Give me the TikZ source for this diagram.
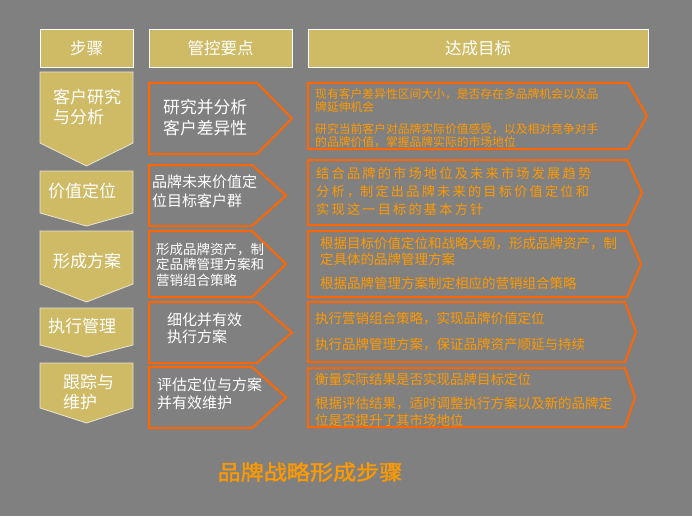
\documentclass[tikz,border=0pt]{standalone}
\usepackage{fontspec}
\usepackage{tikz}
\newfontfamily\hei{Noto Sans CJK SC}
\newfontfamily\heib[FakeBold=1.6,FakeStretch=1.1]{Noto Sans CJK SC}
\definecolor{bggray}{RGB}{128,128,128}
\definecolor{gold}{RGB}{207,187,102}
\definecolor{stepedge}{RGB}{232,228,210}
\definecolor{edgeorange}{RGB}{255,102,0}
\definecolor{textorange}{RGB}{255,153,0}
\tikzset{
  headbox/.style={draw=white, fill=gold, line width=0.8pt},
  stepshape/.style={draw=stepedge, fill=gold, line width=0.8pt},
  pointshape/.style={draw=edgeorange, line width=2pt, line join=miter},
  headtext/.style={text=white, inner sep=0pt, font={\hei\fontsize{16.5}{18}\selectfont}},
  steptext/.style={text=white, align=left, inner sep=0pt, anchor=west},
  goaltext/.style={text=textorange, align=left, inner sep=0pt, anchor=west},
}

\begin{document}
\begin{tikzpicture}[x=1pt, y=-1pt]
\fill[bggray] (0,0) rectangle (692,516);
\useasboundingbox (0,0) rectangle (692,516);

% column heads
\draw[headbox] (40,29) rectangle (133,67);
\draw[headbox] (149,29) rectangle (292,67);
\draw[headbox] (308,29) rectangle (648,67);
\node[headtext] (hstep) at (86.5,48) {步骤};
\node[headtext] (hpoint) at (220.5,48) {管控要点};
\node[headtext] (hgoal) at (478,48) {达成目标};

% steps
\draw[stepshape] (40,72) -- (133,72) -- (133,143) -- (86.5,166) -- (40,143) -- cycle;
\draw[stepshape] (40,171) -- (133,171) -- (133,213) -- (86.5,226) -- (40,213) -- cycle;
\draw[stepshape] (40,231) -- (133,231) -- (133,284) -- (86.5,302) -- (40,284) -- cycle;
\draw[stepshape] (40,308) -- (133,308) -- (133,345) -- (86.5,357) -- (40,345) -- cycle;
\draw[stepshape] (40,363) -- (133,363) -- (133,408) -- (86.5,423) -- (40,408) -- cycle;
\node[steptext, font={\hei\fontsize{17}{20}\selectfont}] (step1) at (53,107) {客户研究\\与分析};
\node[steptext, font={\hei\fontsize{17}{20}\selectfont}] (step2) at (48,191) {价值定位};
\node[steptext, font={\hei\fontsize{17}{20}\selectfont}] (step3) at (53,261) {形成方案};
\node[steptext, font={\hei\fontsize{17}{20}\selectfont}] (step4) at (48,326) {执行管理};
\node[steptext, font={\hei\fontsize{17}{20}\selectfont}] (step5) at (63,392) {跟踪与\\维护};

% control points
\draw[pointshape] (149,83) -- (257,83) -- (292,118.5) -- (257,154) -- (149,154) -- cycle;
\draw[pointshape] (149,165) -- (252,165) -- (286,195.5) -- (252,226) -- (149,226) -- cycle;
\draw[pointshape] (149,231) -- (252,231) -- (286,264) -- (252,297) -- (149,297) -- cycle;
\draw[pointshape] (149,302) -- (257,302) -- (292,332.5) -- (257,363) -- (149,363) -- cycle;
\draw[pointshape] (149,367) -- (252,367) -- (286,397.5) -- (252,428) -- (149,428) -- cycle;
\node[steptext, font={\hei\fontsize{16.8}{21}\selectfont}] (point1) at (163,117.5) {研究并分析\\客户差异性};
\node[steptext, font={\hei\fontsize{15}{19}\selectfont}] (point2) at (152,191.5) {品牌未来价值定\\位目标客户群};
\node[steptext, font={\hei\fontsize{13.5}{15.5}\selectfont}] (point3) at (156,264.5) {形成品牌资产，制\\定品牌管理方案和\\营销组合策略};
\node[steptext, font={\hei\fontsize{15}{17.5}\selectfont}] (point4) at (167,328.5) {细化并有效\\执行方案};
\node[steptext, font={\hei\fontsize{15}{18}\selectfont}] (point5) at (157,394) {评估定位与方案\\并有效维护};

% goals
\draw[pointshape] (308,83) -- (628,83) -- (647,116) -- (628,149) -- (308,149) -- cycle;
\draw[pointshape] (308,160) -- (627,160) -- (642,192.5) -- (627,225) -- (308,225) -- cycle;
\draw[pointshape] (308,231) -- (627,231) -- (641,264) -- (627,297) -- (308,297) -- cycle;
\draw[pointshape] (308,302) -- (625,302) -- (636,332) -- (625,362) -- (308,362) -- cycle;
\draw[pointshape] (308,368) -- (625,368) -- (635,397.5) -- (625,427) -- (308,427) -- cycle;
\node[goaltext, font={\hei\fontsize{11.8}{13}\selectfont}] (goal1) at (315,118) {现有客户差异性区间大小，是否存在多品牌机会以及品\\牌延伸机会\\[9pt]研究当前客户对品牌实际价值感受，以及相对竞争对手\\的品牌价值，掌握品牌实际的市场地位};
\node[goaltext, font={\hei\fontsize{13.2}{18}\selectfont}] (goal2) at (316,191) {结\,合\,品\,牌\,的\,市\,场\,地\,位\,及\,未\,来\,市\,场\,发\,展\,趋\,势\\分\,析\,，制\,定\,出\,品\,牌\,未\,来\,的\,目\,标\,价\,值\,定\,位\,和\\实\,现\,这\,一\,目\,标\,的\,基\,本\,方\,针};
\node[goaltext, font={\hei\fontsize{13.5}{16}\selectfont}] (goal3) at (320,263) {根据目标价值定位和战略大纲，形成品牌资产，制\\定具体的品牌管理方案\\[8pt]根据品牌管理方案制定相应的营销组合策略};
\node[goaltext, font={\hei\fontsize{13.5}{14}\selectfont}] (goal4) at (315,331.5) {执行营销组合策略，实现品牌价值定位\\[11pt]执行品牌管理方案，保证品牌资产顺延与持续};
\node[goaltext, font={\hei\fontsize{13.5}{17}\selectfont}] (goal5) at (315,399.5) {衡量实际结果是否实现品牌目标定位\\[7pt]根据评估结果，适时调整执行方案以及新的品牌定\\位是否提升了其市场地位};

% title
\node[text=textorange, inner sep=0pt, font={\heib\fontsize{21}{24}\selectfont}] (title) at (310,472) {品牌战略形成步骤};
\end{tikzpicture}
\end{document}
